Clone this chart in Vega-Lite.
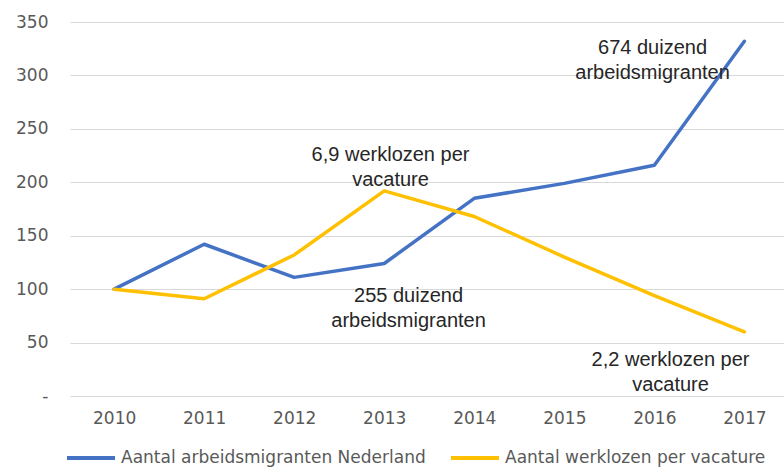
{
  "$schema": "https://vega.github.io/schema/vega-lite/v6.json",
  "width": 714,
  "height": 374,
  "autosize": "none",
  "padding": {"left": 70, "top": 22, "right": 0, "bottom": 72},
  "background": "white",
  "config": {
    "view": {"stroke": null},
    "font": "DejaVu Sans"
  },
  "datasets": {
    "series": [
      {"year": 2010, "series": "Aantal arbeidsmigranten Nederland", "value": 100},
      {"year": 2011, "series": "Aantal arbeidsmigranten Nederland", "value": 142},
      {"year": 2012, "series": "Aantal arbeidsmigranten Nederland", "value": 111},
      {"year": 2013, "series": "Aantal arbeidsmigranten Nederland", "value": 124},
      {"year": 2014, "series": "Aantal arbeidsmigranten Nederland", "value": 185},
      {"year": 2015, "series": "Aantal arbeidsmigranten Nederland", "value": 199},
      {"year": 2016, "series": "Aantal arbeidsmigranten Nederland", "value": 216},
      {"year": 2017, "series": "Aantal arbeidsmigranten Nederland", "value": 332},
      {"year": 2010, "series": "Aantal werklozen per vacature", "value": 100},
      {"year": 2011, "series": "Aantal werklozen per vacature", "value": 91},
      {"year": 2012, "series": "Aantal werklozen per vacature", "value": 132},
      {"year": 2013, "series": "Aantal werklozen per vacature", "value": 192},
      {"year": 2014, "series": "Aantal werklozen per vacature", "value": 168},
      {"year": 2015, "series": "Aantal werklozen per vacature", "value": 130},
      {"year": 2016, "series": "Aantal werklozen per vacature", "value": 94},
      {"year": 2017, "series": "Aantal werklozen per vacature", "value": 60}
    ],
    "notes": [
      {"year": 2013.07, "value": 225.5, "label": "6,9 werklozen per\nvacature"},
      {"year": 2015.98, "value": 326, "label": "674 duizend\narbeidsmigranten"},
      {"year": 2013.27, "value": 94, "label": "255 duizend\narbeidsmigranten"},
      {"year": 2016.18, "value": 33.7, "label": "2,2 werklozen per\nvacature"}
    ]
  },
  "layer": [
    {
      "data": {"name": "series"},
      "mark": {"type": "line", "strokeWidth": 3.5, "strokeCap": "round", "strokeJoin": "round"},
      "encoding": {
        "x": {
          "field": "year", "type": "quantitative",
          "scale": {"domain": [2009.51, 2017.44], "nice": false, "zero": false},
          "axis": {
            "title": null, "values": [2010, 2011, 2012, 2013, 2014, 2015, 2016, 2017],
            "format": "d", "grid": false, "domain": false, "ticks": false, "tickSize": 0,
            "labelFlush": false, "labelPadding": 14, "labelFontSize": 17,
            "labelColor": "#595959", "labelFont": "DejaVu Sans"
          }
        },
        "y": {
          "field": "value", "type": "quantitative",
          "scale": {"domain": [0, 350], "nice": false},
          "axis": {
            "title": null, "values": [0, 50, 100, 150, 200, 250, 300, 350],
            "labelExpr": "datum.value == 0 ? '-      ' : datum.label",
            "grid": true, "gridColor": "#D9D9D9", "gridWidth": 1,
            "domain": false, "ticks": false, "tickSize": 0,
            "labelPadding": 22, "labelFontSize": 17,
            "labelColor": "#595959", "labelFont": "DejaVu Sans"
          }
        },
        "color": {
          "field": "series", "type": "nominal",
          "scale": {
            "domain": ["Aantal arbeidsmigranten Nederland", "Aantal werklozen per vacature"],
            "range": ["#4472C4", "#FFC000"]
          },
          "legend": {
            "title": null, "orient": "none", "direction": "horizontal",
            "legendX": -5, "legendY": 410, "padding": 0,
            "symbolType": "stroke", "symbolSize": 2304, "symbolStrokeWidth": 4,
            "labelFontSize": 17, "labelColor": "#595959", "labelFont": "DejaVu Sans",
            "labelOffset": 4, "columnPadding": 17, "labelLimit": 400
          }
        }
      }
    },
    {
      "data": {"name": "notes"},
      "mark": {
        "type": "text", "align": "center", "baseline": "middle",
        "lineBreak": "\n", "lineHeight": 25, "fontSize": 20,
        "font": "Liberation Sans", "color": "#262626"
      },
      "encoding": {
        "x": {"field": "year", "type": "quantitative"},
        "y": {"field": "value", "type": "quantitative"},
        "text": {"field": "label", "type": "nominal"}
      }
    }
  ]
}
